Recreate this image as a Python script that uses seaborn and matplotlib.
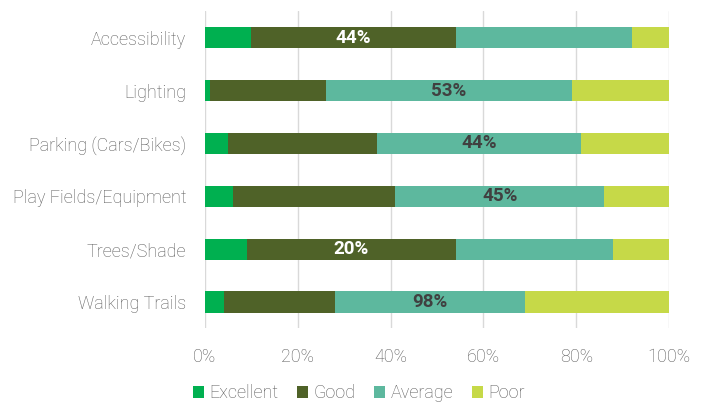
import numpy as np
import pandas as pd
import matplotlib
matplotlib.use("Agg")
import matplotlib.pyplot as plt
from matplotlib.patches import Patch
import seaborn as sns

categories = ["Accessibility", "Lighting", "Parking (Cars/Bikes)",
              "Play Fields/Equipment", "Trees/Shade", "Walking Trails"]
excellent = [10, 1, 5, 6, 9, 4]
good = [44, 25, 32, 35, 45, 24]
average = [38, 53, 44, 45, 34, 41]
poor = [8, 21, 19, 14, 12, 31]
bar_labels = ["44%", "53%", "44%", "45%", "20%", "98%"]
tick_values = [0, 20, 40, 60, 80, 100]

series_names = ["Excellent", "Good", "Average", "Poor"]
colors = {"Excellent": "#00B050", "Good": "#4F6228",
          "Average": "#5DB89E", "Poor": "#C6D948"}

df = pd.DataFrame({"category": categories, "Excellent": excellent,
                   "Good": good, "Average": average, "Poor": poor})
cum = df[series_names].cumsum(axis=1)

sns.set_theme(style="white")
plt.rcParams["font.family"] = ["Roboto", "DejaVu Sans"]

fig = plt.figure(figsize=(7.01, 4.04), dpi=100)
ax = fig.add_axes([0.2924, 0.187, 0.662, 0.785])

# stacked bars: draw cumulative totals from the outermost series inward
for name in reversed(series_names):
    sns.barplot(data=cum.assign(category=df["category"]), x=name, y="category",
                orient="h", color=colors[name], width=0.4, saturation=1,
                linewidth=0, ax=ax, zorder=3)

# value labels centred on the largest segment of each bar
for i, lab in enumerate(bar_labels):
    vals = df.loc[i, series_names].to_numpy(dtype=float)
    j = int(np.argmax(vals))
    start = cum.iloc[i, j] - vals[j]
    center = start + vals[j] / 2
    txt_color = "white" if series_names[j] == "Good" else "#404040"
    ax.text(center, i, lab, ha="center", va="center", color=txt_color,
            fontsize=13.5, fontweight="bold", zorder=5)

ax.set_xlim(0, 100)
ax.set_ylim(5.5, -0.5)
ax.set_xticks(tick_values)
ax.set_xticklabels([f"{v}%" for v in tick_values])
ax.set_xlabel("")
ax.set_ylabel("")
ax.grid(axis="x", color="#D9D9D9", linewidth=1, zorder=0)
ax.grid(axis="y", visible=False)
for s in ax.spines.values():
    s.set_visible(False)
ax.tick_params(axis="x", length=0, pad=14, labelsize=13, labelcolor="#595959")
ax.tick_params(axis="y", length=0, pad=13.5, labelsize=13, labelcolor="#595959")
for t in ax.get_xticklabels() + ax.get_yticklabels():
    t.set_fontweight("light")

handles = [Patch(facecolor=colors[n], edgecolor="none") for n in series_names]
leg = fig.legend(handles, series_names, loc="lower center", bbox_to_anchor=(0.512, 0.0),
                 ncol=4, frameon=False, fontsize=13, handlelength=0.6,
                 handleheight=0.6, handletextpad=0.3, columnspacing=1.05,
                 borderpad=0.1, borderaxespad=0)
for t in leg.get_texts():
    t.set_color("#595959")
    t.set_fontweight("light")

fig.savefig("out.png", dpi=100)
